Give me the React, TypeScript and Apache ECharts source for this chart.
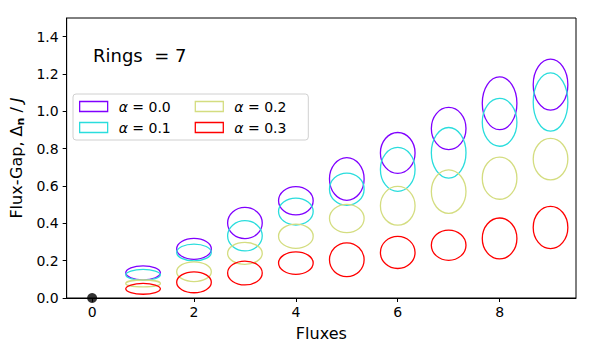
import React, { useEffect, useRef } from "react";
import * as echarts from "echarts";

const fluxes = [1, 2, 3, 4, 5, 6, 7, 8, 9];
const alphaLabels = ["0.0", "0.1", "0.2", "0.3"];
const alphaColors = ["#8000ff", "#2adddd", "#d4dd80", "#ff0000"];

const gap00 = [0.135, 0.263, 0.402, 0.521, 0.638, 0.777, 0.908, 1.043, 1.143];
const gap01 = [0.124, 0.244, 0.333, 0.463, 0.583, 0.689, 0.778, 0.941, 1.05];
const gap02 = [0.078, 0.141, 0.239, 0.331, 0.426, 0.494, 0.57, 0.642, 0.744];
const gap03 = [0.049, 0.084, 0.134, 0.187, 0.205, 0.244, 0.283, 0.319, 0.378];

const spread00 = [0.075, 0.112, 0.167, 0.152, 0.229, 0.219, 0.226, 0.283, 0.274];
const spread01 = [0.058, 0.09, 0.162, 0.144, 0.172, 0.235, 0.271, 0.256, 0.313];
const spread02 = [0.037, 0.106, 0.117, 0.13, 0.151, 0.208, 0.233, 0.226, 0.222];
const spread03 = [0.058, 0.112, 0.128, 0.121, 0.181, 0.172, 0.162, 0.219, 0.226];

const fluxSpread = 0.68;
const origin = [[0, 0]];

const xTicks = [0, 2, 4, 6, 8];
const yTicks = [0, 0.2, 0.4, 0.6, 0.8, 1.0, 1.2, 1.4];

const gaps = [gap00, gap01, gap02, gap03];
const spreads = [spread00, spread01, spread02, spread03];

const FONT = "DejaVu Sans";

export default function App() {
  const ref = useRef<HTMLDivElement>(null);
  useEffect(() => {
    if (!ref.current) return;
    const chart = echarts.init(ref.current, null, { renderer: "svg" });
    const ellipseSeries = alphaLabels.map((lab, k) => ({
      name: lab,
      type: "custom",
      clip: false,
      z: 3,
      encode: { x: 0, y: 1 },
      data: fluxes.map((f, i) => [f, gaps[k][i], fluxSpread, spreads[k][i]]),
      renderItem: (params: any, api: any) => {
        const c = api.coord([api.value(0), api.value(1)]);
        const s = api.size([api.value(2), api.value(3)]);
        return {
          type: "ellipse",
          shape: { cx: c[0], cy: c[1], rx: s[0] / 2, ry: s[1] / 2 },
          style: { fill: "none", stroke: alphaColors[k], lineWidth: 1.3 },
        };
      },
    }));
    const legendOrder = [0, 2, 1, 3];
    chart.setOption({
      animation: false,
      grid: {
        left: 66,
        right: 24,
        top: 18,
        bottom: 52,
        show: true,
        borderColor: "#000",
        borderWidth: 1,
        backgroundColor: "transparent",
      },
      xAxis: {
        type: "value",
        min: -0.5,
        max: 9.5,
        name: "Fluxes",
        nameLocation: "middle",
        nameGap: 27,
        nameTextStyle: { fontFamily: FONT, fontSize: 16, color: "#000" },
        splitLine: { show: false },
        axisLine: { show: true, onZero: false, lineStyle: { color: "#000", width: 1 } },
        axisTick: { show: true, inside: false, length: 4, customValues: xTicks, lineStyle: { color: "#000" } },
        axisLabel: {
          customValues: xTicks,
          margin: 7,
          fontFamily: FONT,
          fontSize: 14,
          color: "#000",
          formatter: (v: number) => String(v),
        },
      },
      yAxis: {
        type: "value",
        min: 0,
        max: 1.5,
        name: "{a|Flux-Gap, Δ}{sub|n}{a| / }{it|J}",
        nameLocation: "middle",
        nameGap: 41,
        nameTextStyle: {
          fontFamily: FONT,
          fontSize: 16,
          color: "#000",
          rich: {
            a: { fontFamily: FONT, fontSize: 16, color: "#000" },
            sub: { fontFamily: FONT, fontSize: 11, fontWeight: "bold", color: "#000", verticalAlign: "bottom", padding: [8, 0, 0, 0] },
            it: { fontFamily: FONT, fontSize: 16, fontStyle: "italic", color: "#000" },
          },
        },
        splitLine: { show: false },
        axisLine: { show: true, onZero: false, lineStyle: { color: "#000", width: 1 } },
        axisTick: { show: true, inside: false, length: 4, customValues: yTicks, lineStyle: { color: "#000" } },
        axisLabel: {
          customValues: yTicks,
          margin: 8,
          fontFamily: FONT,
          fontSize: 14,
          color: "#000",
          formatter: (v: number) => v.toFixed(1),
        },
      },
      legend: {
        left: 73,
        top: 94,
        width: 260,
        orient: "horizontal",
        padding: [5, 4, 5, 6],
        itemGap: 6,
        itemWidth: 28,
        itemHeight: 10,
        borderColor: "#d0d0d0",
        borderWidth: 1,
        borderRadius: 3,
        backgroundColor: "rgba(255,255,255,0.85)",
        selectedMode: false,
        data: legendOrder.map((k) => ({
          name: alphaLabels[k],
          icon: "rect",
          itemStyle: { color: "transparent", borderColor: alphaColors[k], borderWidth: 1.3 },
        })),
        formatter: (name: string) => `{i|α}{t| = ${name}}`,
        textStyle: {
          fontFamily: FONT,
          fontSize: 14,
          color: "#000",
          width: 70,
          lineHeight: 15,
          padding: [0, 0, 0, 6],
          rich: {
            i: { fontFamily: FONT, fontSize: 14, fontStyle: "italic", color: "#000" },
            t: { fontFamily: FONT, fontSize: 14, color: "#000" },
          },
        },
      },
      graphic: [
        {
          type: "text",
          left: 93,
          top: 46,
          style: { text: "Rings  = 7", fontFamily: FONT, fontSize: 18, fill: "#000" },
        },
      ],
      series: [
        ...ellipseSeries,
        {
          name: "origin",
          type: "scatter",
          data: origin,
          symbol: "circle",
          symbolSize: 10,
          clip: false,
          z: 10,
          itemStyle: { color: "#000" },
        },
      ],
    });
    return () => chart.dispose();
  }, []);
  return <div ref={ref} style={{ width: 600, height: 350, margin: -8 }} />;
}
